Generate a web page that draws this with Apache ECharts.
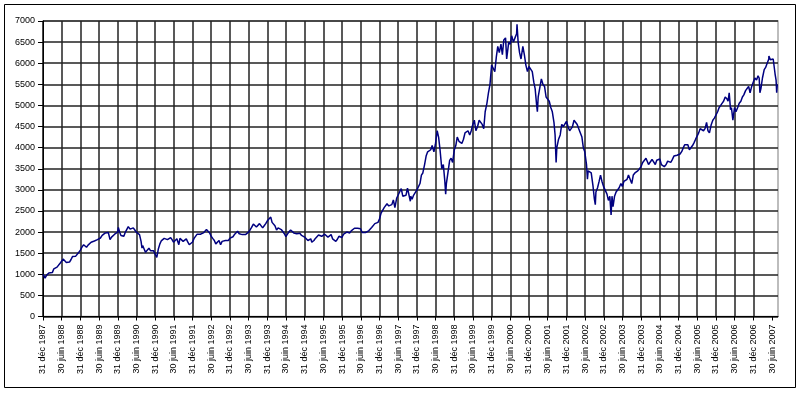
<!DOCTYPE html>
<html><head><meta charset="utf-8">
<script src="https://cdn.jsdelivr.net/npm/echarts@6/dist/echarts.min.js"></script>
<style>html,body{margin:0;padding:0;background:#fff}#c{width:800px;height:393px}</style>
</head><body><div id="c"></div>
<script>
const tickLabels = [
'31 déc 1987','30 juin 1988','31 déc 1988','30 juin 1989','31 déc 1989','30 juin 1990','31 déc 1990','30 juin 1991',
'31 déc 1991','30 juin 1992','31 déc 1992','30 juin 1993','31 déc 1993','30 juin 1994','31 déc 1994','30 juin 1995',
'31 déc 1995','30 juin 1996','31 déc 1996','30 juin 1997','31 déc 1997','30 juin 1998','31 déc 1998','30 juin 1999',
'31 déc 1999','30 juin 2000','31 déc 2000','30 juin 2001','31 déc 2001','30 juin 2002','31 déc 2002','30 juin 2003',
'31 déc 2003','30 juin 2004','31 déc 2004','30 juin 2005','31 déc 2005','30 juin 2006','31 déc 2006','30 juin 2007'];

const dates = [
'1987-12-31','1988-01-08','1988-01-20','1988-02-05','1988-02-26','1988-03-15','1988-03-31','1988-04-15','1988-04-29','1988-05-16','1988-05-31','1988-06-15','1988-06-30','1988-07-15','1988-07-29','1988-08-15','1988-08-31','1988-09-15','1988-09-30','1988-10-14','1988-10-31','1988-11-15','1988-11-30','1988-12-15','1988-12-30',
'1989-01-16','1989-01-31','1989-02-15','1989-02-28','1989-03-15','1989-03-31','1989-04-14','1989-04-28','1989-05-16','1989-05-31','1989-06-15','1989-06-30','1989-07-14','1989-07-31','1989-08-15','1989-08-31','1989-09-15','1989-09-29','1989-10-16','1989-10-31','1989-11-15','1989-11-30','1989-12-15','1989-12-29',
'1990-01-05','1990-01-19','1990-01-31','1990-02-15','1990-02-28','1990-03-15','1990-03-30','1990-04-12','1990-04-30','1990-05-15','1990-05-31','1990-06-15','1990-06-29','1990-07-16','1990-07-31','1990-08-15','1990-08-24','1990-08-31','1990-09-14','1990-09-28','1990-10-15','1990-10-31','1990-11-15','1990-11-30','1990-12-14','1990-12-31',
'1991-01-16','1991-01-31','1991-02-15','1991-02-28','1991-03-15','1991-03-29','1991-04-15','1991-04-30','1991-05-15','1991-05-31','1991-06-14','1991-06-28','1991-07-15','1991-07-31','1991-08-19','1991-08-30','1991-09-16','1991-09-30','1991-10-15','1991-10-31','1991-11-15','1991-11-29','1991-12-16','1991-12-31',
'1992-01-15','1992-01-31','1992-02-14','1992-02-28','1992-03-16','1992-03-31','1992-04-15','1992-04-30','1992-05-15','1992-05-29','1992-06-15','1992-06-30','1992-07-15','1992-07-31','1992-08-14','1992-08-31','1992-09-15','1992-09-30','1992-10-05','1992-10-15','1992-10-30','1992-11-16','1992-11-30','1992-12-15','1992-12-31',
'1993-01-15','1993-01-29','1993-02-15','1993-02-26','1993-03-15','1993-03-31','1993-04-15','1993-04-30','1993-05-14','1993-05-31','1993-06-15','1993-06-30','1993-07-15','1993-07-30','1993-08-16','1993-08-31','1993-09-15','1993-09-30','1993-10-15','1993-10-29','1993-11-15','1993-11-30','1993-12-15','1993-12-31',
'1994-01-14','1994-02-02','1994-02-15','1994-02-28','1994-03-15','1994-03-31','1994-04-15','1994-04-29','1994-05-16','1994-05-31','1994-06-15','1994-06-30','1994-07-15','1994-07-29','1994-08-15','1994-08-31','1994-09-15','1994-09-30','1994-10-14','1994-10-31','1994-11-15','1994-11-30','1994-12-15','1994-12-30',
'1995-01-16','1995-01-31','1995-02-15','1995-02-28','1995-03-10','1995-03-31','1995-04-14','1995-04-28','1995-05-15','1995-05-31','1995-06-15','1995-06-30','1995-07-14','1995-07-31','1995-08-15','1995-08-31','1995-09-15','1995-09-29','1995-10-16','1995-10-31','1995-11-15','1995-11-30','1995-12-15','1995-12-29',
'1996-01-15','1996-01-31','1996-02-15','1996-02-29','1996-03-15','1996-03-29','1996-04-15','1996-04-30','1996-05-15','1996-05-31','1996-06-14','1996-06-28','1996-07-15','1996-07-31','1996-08-15','1996-08-30','1996-09-16','1996-09-30','1996-10-15','1996-10-31','1996-11-15','1996-11-29','1996-12-16','1996-12-31',
'1997-01-15','1997-01-31','1997-02-14','1997-02-28','1997-03-14','1997-03-31','1997-04-15','1997-04-30','1997-05-15','1997-05-30','1997-06-16','1997-06-30','1997-07-15','1997-07-31','1997-08-15','1997-08-29','1997-09-15','1997-09-30','1997-10-15','1997-10-28','1997-10-31','1997-11-14','1997-11-28','1997-12-15','1997-12-31',
'1998-01-15','1998-01-30','1998-02-13','1998-02-27','1998-03-16','1998-03-31','1998-04-15','1998-04-30','1998-05-15','1998-05-29','1998-06-15','1998-06-30','1998-07-17','1998-07-31','1998-08-14','1998-08-31','1998-09-15','1998-09-30','1998-10-08','1998-10-15','1998-10-30','1998-11-16','1998-11-30','1998-12-15','1998-12-31',
'1999-01-15','1999-01-29','1999-02-15','1999-02-26','1999-03-15','1999-03-31','1999-04-15','1999-04-30','1999-05-14','1999-05-31','1999-06-15','1999-06-30','1999-07-15','1999-07-30','1999-08-16','1999-08-31','1999-09-15','1999-09-30','1999-10-15','1999-10-29','1999-11-15','1999-11-30','1999-12-15','1999-12-31',
'2000-01-14','2000-01-31','2000-02-15','2000-02-29','2000-03-15','2000-03-31','2000-04-14','2000-04-28','2000-05-15','2000-05-26','2000-06-15','2000-06-30','2000-07-14','2000-07-31','2000-08-15','2000-08-31','2000-09-04','2000-09-15','2000-09-29','2000-10-13','2000-10-31','2000-11-15','2000-11-30','2000-12-15','2000-12-29',
'2001-01-15','2001-01-31','2001-02-15','2001-02-28','2001-03-15','2001-03-22','2001-03-30','2001-04-17','2001-04-30','2001-05-15','2001-05-31','2001-06-15','2001-06-29','2001-07-16','2001-07-31','2001-08-15','2001-08-31','2001-09-11','2001-09-21','2001-09-28','2001-10-15','2001-10-31','2001-11-15','2001-11-30','2001-12-14','2001-12-31',
'2002-01-15','2002-01-31','2002-02-15','2002-02-28','2002-03-15','2002-03-28','2002-04-15','2002-04-30','2002-05-15','2002-05-31','2002-06-14','2002-06-28','2002-07-15','2002-07-24','2002-07-31','2002-08-15','2002-08-30','2002-09-16','2002-09-30','2002-10-09','2002-10-15','2002-10-31','2002-11-15','2002-11-29','2002-12-13','2002-12-31',
'2003-01-15','2003-01-31','2003-02-14','2003-02-28','2003-03-12','2003-03-21','2003-03-31','2003-04-15','2003-04-30','2003-05-15','2003-05-30','2003-06-16','2003-06-30','2003-07-15','2003-07-31','2003-08-15','2003-08-29','2003-09-15','2003-09-30','2003-10-15','2003-10-31','2003-11-14','2003-11-28','2003-12-15','2003-12-31',
'2004-01-15','2004-01-30','2004-02-16','2004-02-27','2004-03-12','2004-03-31','2004-04-15','2004-04-30','2004-05-17','2004-05-31','2004-06-15','2004-06-30','2004-07-15','2004-07-30','2004-08-13','2004-08-31','2004-09-15','2004-09-30','2004-10-15','2004-10-29','2004-11-15','2004-11-30','2004-12-15','2004-12-31',
'2005-01-14','2005-01-31','2005-02-15','2005-02-28','2005-03-15','2005-03-31','2005-04-15','2005-04-29','2005-05-16','2005-05-31','2005-06-15','2005-06-30','2005-07-15','2005-07-29','2005-08-15','2005-08-31','2005-09-15','2005-09-30','2005-10-14','2005-10-28','2005-11-15','2005-11-30','2005-12-15','2005-12-30',
'2006-01-16','2006-01-31','2006-02-15','2006-02-28','2006-03-15','2006-03-31','2006-04-18','2006-04-28','2006-05-09','2006-05-22','2006-05-31','2006-06-14','2006-06-30','2006-07-14','2006-07-31','2006-08-15','2006-08-31','2006-09-15','2006-09-29','2006-10-16','2006-10-31','2006-11-15','2006-11-29','2006-12-15','2006-12-29',
'2007-01-15','2007-01-31','2007-02-15','2007-02-26','2007-03-05','2007-03-15','2007-03-30','2007-04-16','2007-04-30','2007-05-15','2007-05-31','2007-06-01','2007-06-15','2007-06-29','2007-07-13','2007-07-31','2007-08-10','2007-08-16','2007-08-22'];

const values = [
1000,1010,910,980,1030,1070,1040,1130,1110,1170,1140,1260,1300,1360,1320,1280,1300,1290,1350,1420,1460,1430,1470,1520,1573,
1650,1700,1680,1640,1690,1720,1760,1740,1790,1770,1820,1790,1860,1920,1960,1980,1940,1990,1820,1880,1900,1950,1970,2001,
2110,1990,1920,1930,1900,2000,2040,2130,2070,2060,2100,2050,2000,2030,1940,1780,1620,1680,1600,1520,1560,1620,1560,1590,1560,1518,
1400,1600,1720,1790,1810,1850,1880,1820,1850,1870,1820,1760,1800,1840,1700,1850,1840,1780,1800,1840,1760,1700,1680,1766,
1850,1880,1950,1970,1950,1920,1980,2010,2060,2070,1980,1900,1850,1800,1720,1700,1800,1700,1660,1780,1740,1800,1830,1800,1857,
1830,1890,1950,1980,2020,1960,1930,1940,1970,1940,1960,2000,2050,2110,2190,2200,2120,2110,2200,2220,2100,2150,2200,2268,
2300,2355,2230,2200,2150,2050,2100,2120,2060,2020,1960,1890,1950,2000,2050,2060,1980,1940,1960,1930,1970,1920,1880,1881,
1860,1800,1820,1840,1760,1800,1850,1870,1930,1960,1900,1880,1950,1940,1880,1900,1940,1840,1800,1780,1830,1900,1860,1872,
1950,1980,2000,1990,1980,2030,2060,2090,2100,2090,2110,2080,1990,1960,1990,1980,2030,2070,2110,2120,2200,2230,2230,2316,
2450,2480,2580,2600,2670,2620,2580,2650,2760,2580,2800,2820,2950,3030,2850,2820,2870,3040,3000,2730,2850,2780,2870,2900,2999,
2980,3150,3350,3400,3600,3800,3900,3900,3950,4050,3900,4080,4400,4250,3950,3500,3600,3200,2900,3150,3400,3700,3750,3650,3943,
4050,4250,4150,4150,4100,4200,4350,4350,4400,4300,4400,4550,4650,4400,4500,4650,4650,4550,4450,4850,5050,5300,5500,5958,
5950,5800,6150,6400,6250,6450,6200,6550,6600,6100,6500,6450,6650,6500,6600,6700,6922,6500,6250,6100,6400,6200,5950,5800,5926,
5900,5800,5550,5400,5000,4850,5200,5450,5630,5500,5450,5200,5200,5100,4950,4850,4600,4300,3650,4000,4200,4300,4550,4500,4500,4624,
4500,4400,4450,4500,4650,4690,4550,4450,4450,4250,4000,3900,3600,3250,3450,3450,3400,3100,2780,2650,2950,3050,3200,3350,3200,3064,
3050,2900,2750,2850,2403,2850,2600,2850,2950,2950,3050,3150,3080,3200,3200,3250,3350,3350,3150,3350,3400,3400,3450,3500,3558,
3650,3650,3750,3730,3600,3620,3720,3680,3600,3700,3700,3730,3600,3640,3550,3600,3680,3640,3650,3710,3800,3770,3820,3821,
3850,3910,4000,4070,4080,4070,3950,3930,4050,4120,4200,4230,4350,4450,4420,4400,4450,4600,4400,4350,4550,4650,4700,4715,
4850,4950,5000,5050,5100,5200,5150,5100,5300,4900,4950,4650,4950,4850,4950,5050,5100,5200,5250,5350,5400,5450,5300,5450,5542,
5650,5600,5700,5650,5300,5400,5650,5850,5900,6000,6100,6168,6080,6050,6100,5750,5600,5300,5500];

const yMin = 0, yMax = 7000, yStep = 500;
const t0 = Date.UTC(1987, 11, 31);
const HALF_YEAR = 182.625 * 86400000;
function halfYearIndex(s) { const p = s.split('-'); return (Date.UTC(+p[0], +p[1] - 1, +p[2]) - t0) / HALF_YEAR; }
const seriesData = dates.map((d, i) => [halfYearIndex(d), values[i]]);
const tickPos = tickLabels.map((_, i) => i);

const chart = echarts.init(document.getElementById('c'), null, {renderer: 'canvas'});
const font = "'Liberation Sans', Arial, sans-serif";
chart.setOption({
  animation: false,
  backgroundColor: '#fff',
  graphic: [{
    type: 'rect', shape: {x: 4.5, y: 4.5, width: 791, height: 383},
    style: {fill: 'none', stroke: '#000', lineWidth: 1}, z: 100
  }],
  grid: {left: 43, right: 22, top: 21, bottom: 76.5, show: true, borderColor: '#a8a8a8', borderWidth: 1.5, backgroundColor: 'transparent'},
  xAxis: {
    type: 'value', min: 0, max: 39.32, interval: 1,
    axisLine: {show: true, onZero: false, lineStyle: {color: '#000', width: 1}},
    axisTick: {show: true, length: 4, customValues: tickPos, lineStyle: {color: '#000'}},
    axisLabel: {customValues: tickPos, rotate: 90, margin: 8, fontSize: 9, fontFamily: font, color: '#000',
      formatter: v => tickLabels[Math.round(v)] || ''},
    splitLine: {show: true, showMaxLine: false, lineStyle: {color: '#222', width: 1.5}}
  },
  yAxis: {
    type: 'value', min: yMin, max: yMax, interval: yStep,
    axisLine: {show: true, lineStyle: {color: '#000', width: 1}},
    axisTick: {show: true, length: 5, lineStyle: {color: '#000'}},
    axisLabel: {margin: 8, fontSize: 9, fontFamily: font, color: '#000', formatter: v => String(v)},
    splitLine: {show: true, lineStyle: {color: '#222', width: 1.5}}
  },
  series: [{
    type: 'line', data: seriesData, showSymbol: false, symbol: 'none',
    lineStyle: {color: '#000080', width: 1.5}, z: 10
  }]
});
</script>
</body></html>
